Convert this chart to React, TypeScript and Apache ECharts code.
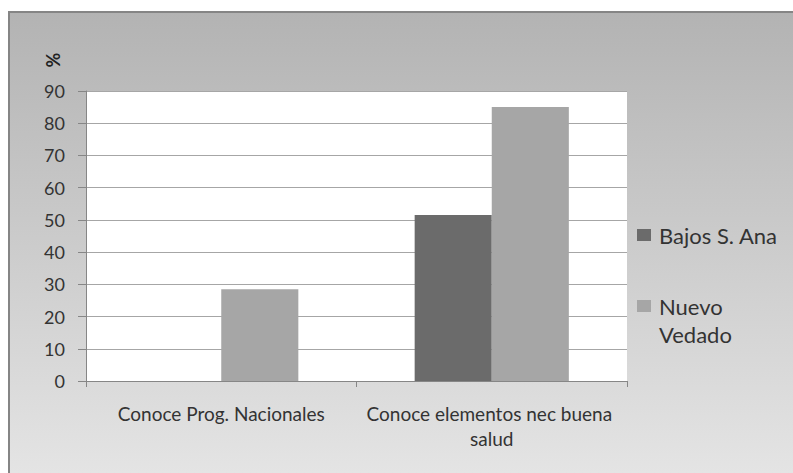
import React, { useEffect, useRef } from "react";
import * as echarts from "echarts";

const categories = ["Conoce Prog. Nacionales", "Conoce elementos nec buena salud"];
const seriesNames = ["Bajos S. Ana", "Nuevo Vedado"];
const bajosValues = [0, 51.5];
const nuevoValues = [28.5, 85];
const yMin = 0;
const yMax = 90;
const yInterval = 10;

const FONT = "Lato, 'Noto Sans', sans-serif";

export default function App() {
  const ref = useRef<HTMLDivElement>(null);
  useEffect(() => {
    if (!ref.current) return;
    const chart = echarts.init(ref.current, undefined, { renderer: "svg" });
    chart.setOption({
      animation: false,
      backgroundColor: "#ffffff",
      textStyle: { fontFamily: FONT },
      graphic: [
        {
          type: "rect",
          z: -10,
          silent: true,
          shape: { x: 9, y: 12, width: 800, height: 480 },
          style: {
            fill: new echarts.graphic.LinearGradient(0, 0, 0, 1, [
              { offset: 0, color: "#b3b3b3" },
              { offset: 1, color: "#e6e6e6" },
            ]),
            stroke: "#858585",
            lineWidth: 2,
          },
        },
        {
          type: "text",
          x: 53,
          y: 60,
          rotation: Math.PI / 2,
          style: {
            text: "%",
            font: `bold 18px ${FONT}`,
            fill: "#222",
            align: "center",
            verticalAlign: "middle",
          },
        },
      ],
      grid: {
        left: 86,
        top: 91,
        right: 166,
        bottom: 92,
        show: true,
        backgroundColor: "#ffffff",
        borderWidth: 0,
      },
      legend: [
        {
          data: [seriesNames[0]],
          orient: "vertical",
          left: 637,
          top: 221,
          padding: 0,
          itemWidth: 14,
          itemHeight: 12,
          icon: "rect",
          textStyle: {
            fontSize: 22,
            color: "#333",
            lineHeight: 28,
            padding: [0, 0, 0, 3],
            fontFamily: FONT,
          },
        },
        {
          data: [seriesNames[1]],
          orient: "vertical",
          left: 637,
          top: 264,
          padding: 0,
          itemWidth: 14,
          itemHeight: 12,
          icon: "rect",
          formatter: (n: string) => " \n" + n.replace(" ", "\n"),
          textStyle: {
            fontSize: 22,
            color: "#333",
            lineHeight: 28,
            padding: [0, 0, 0, 3],
            fontFamily: FONT,
          },
        },
      ],
      xAxis: {
        type: "category",
        data: categories,
        axisLine: { show: true, lineStyle: { color: "#868686", width: 1 } },
        axisTick: { show: true, length: 6, lineStyle: { color: "#868686" } },
        axisLabel: {
          fontSize: 19,
          color: "#333",
          margin: 20,
          width: 265,
          overflow: "break",
          lineHeight: 25,
          interval: 0,
          fontFamily: FONT,
        },
        splitLine: { show: false },
      },
      yAxis: {
        type: "value",
        min: yMin,
        max: yMax,
        interval: yInterval,
        axisLine: { show: true, lineStyle: { color: "#868686", width: 1 } },
        axisTick: { show: true, length: 8, lineStyle: { color: "#868686" } },
        axisLabel: { fontSize: 18, color: "#333", margin: 21, fontFamily: FONT },
        splitLine: { show: true, lineStyle: { color: "#a6a6a6", width: 1 } },
      },
      series: [
        {
          name: seriesNames[0],
          type: "bar",
          data: bajosValues,
          itemStyle: { color: "#6b6b6b" },
          barGap: "0%",
          barCategoryGap: "43%",
        },
        {
          name: seriesNames[1],
          type: "bar",
          data: nuevoValues,
          itemStyle: { color: "#a6a6a6" },
          barGap: "0%",
          barCategoryGap: "43%",
        },
      ],
    });
    return () => chart.dispose();
  }, []);
  return (
    <div
      ref={ref}
      style={{ position: "fixed", left: 0, top: 0, width: 793, height: 473 }}
    />
  );
}
